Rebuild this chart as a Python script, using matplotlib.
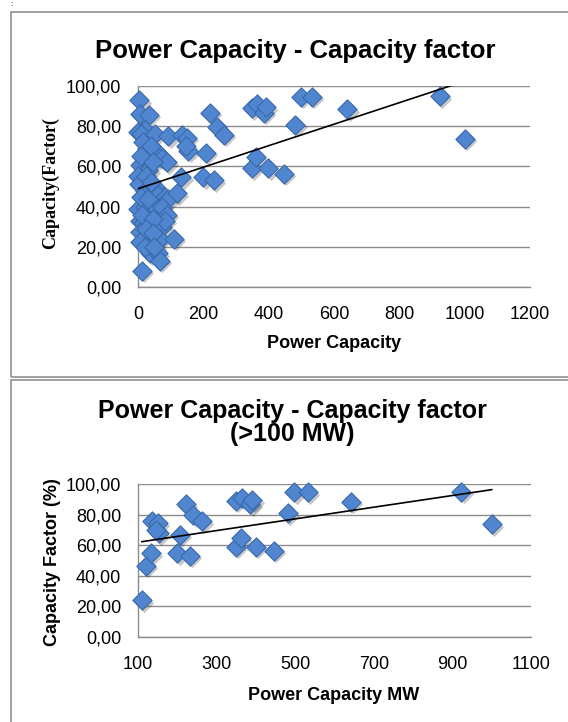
import matplotlib
matplotlib.use("Agg")
import matplotlib.pyplot as plt
from matplotlib import transforms
from matplotlib.ticker import FuncFormatter
from matplotlib.patches import Rectangle
import numpy as np

# ---------------- data ----------------
# plants below ~100 MW (only in the first chart)
small_cap_mw = [4, 6, 33, 1, 20, 8, 51, 93, 28, 57, 73, 88, 6, 32, 0, 2, 22, 52, 62, 83,
                93, 0, 22, 48, 57, 73, 88, 6, 16, 37, 62, 72, 83, 6, 32, 57, 67, 6, 37,
                62, 67, 12, 15, 40, 10, 45, 25, 40, 10, 30, 12, 45, 25, 45, 20, 50]
small_cf = [93, 86, 85.6, 77, 78, 76, 76, 75, 68.5, 67, 64, 62, 60.5, 58, 55, 51, 48, 50,
            46, 45, 44, 39, 40, 37.5, 39, 40, 36, 33, 32, 31.7, 30, 30, 33, 27.6, 26, 23.5,
            24, 22.5, 16.7, 16.7, 13, 8, 72, 70, 65, 62, 55, 52, 45, 44, 36, 34, 29, 27,
            20, 20]
# plants above 100 MW (in both charts)
large_cap_mw = [110, 120, 133, 136, 150, 154, 147, 207, 200, 232, 221, 241, 262, 349, 364,
                386, 391, 349, 362, 399, 446, 482, 498, 532, 641, 923, 1000]
large_cf = [24, 46.6, 54.7, 75.8, 74.3, 67.8, 70, 66.7, 54.7, 53.1, 86.7, 79.7, 75.8, 88.9,
            91, 86.7, 89.5, 59, 64.5, 59, 56.4, 80.8, 94.6, 94.6, 88.5, 95, 73.7]

# linear trend lines (slope, intercept) as drawn
top_trend = (0.0535, 48.9)
bottom_trend = (0.0382, 58.1)

top_xticks = [0, 200, 400, 600, 800, 1000, 1200]
bottom_xticks = [100, 300, 500, 700, 900, 1100]
yticks = [0, 20, 40, 60, 80, 100]

titles = ["Power Capacity - Capacity factor", "Power Capacity - Capacity factor", "(>100 MW)"]
xlabels = ["Power Capacity", "Power Capacity MW"]
ylabels = ["Capacity(Factor(", "Capacity Factor (%)"]

# ---------------- figure ----------------
W, H = 568, 722
fig = plt.figure(figsize=(W / 100, H / 100), dpi=100)
SANS = ["Liberation Sans", "DejaVu Sans"]
SERIF = ["Liberation Serif", "DejaVu Serif"]
GRAY = "#8c8c8c"
FILL = "#4F86CF"
EDGE = "#3A69AA"


def fx(px):
    return px / W


def fy(py):
    return 1 - py / H


# chart boxes
fig.add_artist(Rectangle((fx(11), fy(377)), fx(600 - 11), fy(12) - fy(377),
                         transform=fig.transFigure, fill=False, edgecolor="#9a9a9a", lw=1.3))
fig.add_artist(Rectangle((fx(11), fy(740)), fx(600 - 11), fy(380) - fy(740),
                         transform=fig.transFigure, fill=False, edgecolor="#9a9a9a", lw=1.3))
fig.text(fx(11), fy(5), ":", fontsize=6, family=SANS, ha="center", va="center")

fmt = FuncFormatter(lambda v, p: f"{v:.2f}".replace(".", ","))


def panel(rect, xs, ys, xlim, xticks, trend):
    ax = fig.add_axes(rect)
    ax.set_xlim(*xlim)
    ax.set_ylim(0, 100)
    ax.set_xticks(xticks)
    ax.set_yticks(yticks)
    ax.yaxis.set_major_formatter(fmt)
    for s in ["top", "right"]:
        ax.spines[s].set_visible(False)
    for s in ["left", "bottom"]:
        ax.spines[s].set_color(GRAY)
        ax.spines[s].set_linewidth(1.0)
    ax.grid(axis="y", color=GRAY, lw=1.0)
    ax.set_axisbelow(True)
    ax.tick_params(length=0, labelsize=13)
    ax.tick_params(axis="y", pad=12)
    ax.tick_params(axis="x", pad=14)
    for lab in ax.get_xticklabels() + ax.get_yticklabels():
        lab.set_family(SANS)
    shadow = transforms.offset_copy(ax.transData, fig=fig, x=1.6, y=-1.8, units="points")
    ax.scatter(xs, ys, marker="D", s=96, color="#000000", alpha=0.22, lw=0,
               transform=shadow, clip_on=False, zorder=2)
    ax.scatter(xs, ys, marker="D", s=96, facecolor=FILL, edgecolor=EDGE, lw=0.8,
               clip_on=False, zorder=3)
    tx = np.array([min(xs), max(xs)])
    ax.plot(tx, trend[0] * tx + trend[1], color="black", lw=1.2, zorder=4)
    return ax


all_x = small_cap_mw + large_cap_mw
all_y = small_cf + large_cf
ax1 = panel([fx(138), fy(287), fx(530 - 138), fy(86) - fy(287)], all_x, all_y,
            (0, 1200), top_xticks, top_trend)
ax2 = panel([fx(138), fy(637), fx(531 - 138), fy(484) - fy(637)], large_cap_mw, large_cf,
            (100, 1100), bottom_xticks, bottom_trend)

# titles and labels
fig.text(fx(295), fy(58), titles[0], fontsize=18.5, fontweight="bold", family=SANS,
         ha="center", va="baseline")
fig.text(fx(292), fy(418), titles[1], fontsize=18, fontweight="bold", family=SANS,
         ha="center", va="baseline")
fig.text(fx(292), fy(441), titles[2], fontsize=18, fontweight="bold", family=SANS,
         ha="center", va="baseline")
fig.text(fx(334), fy(344), xlabels[0], fontsize=13, fontweight="bold", family=SANS,
         ha="center", va="center")
fig.text(fx(334), fy(696), xlabels[1], fontsize=13, fontweight="bold", family=SANS,
         ha="center", va="center")
fig.text(fx(50), fy(183), ylabels[0], fontsize=13, fontweight="bold", family=SERIF,
         ha="center", va="center", rotation=90)
fig.text(fx(53), fy(562), ylabels[1], fontsize=13, fontweight="bold", family=SANS,
         ha="center", va="center", rotation=90)

fig.savefig("out.png", dpi=100)
